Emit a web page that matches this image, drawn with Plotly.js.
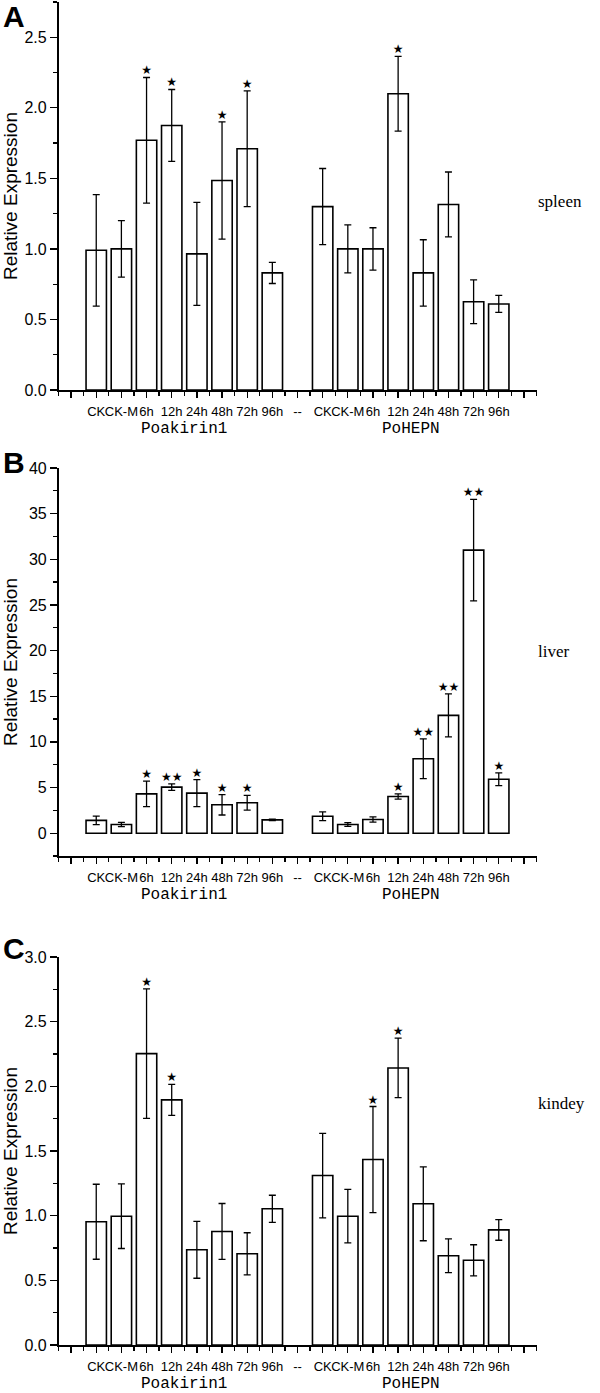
<!DOCTYPE html>
<html>
<head>
<meta charset="utf-8">
<script src="https://cdn.plot.ly/plotly-3.0.1.min.js"></script>
<style>html,body{margin:0;padding:0;background:#fff}#chart{width:600px;height:1393px}</style>
</head>
<body>
<div id="chart"></div>
<script>
// ---- data ----
const tickLabels = ['CK','CK-M','6h','12h','24h','48h','72h','96h','--','CK','CK-M','6h','12h','24h','48h','72h','96h'];
const groupNames = ['Poakirin1','PoHEPN'];
const groupCenters = [3.5, 12.5];
const barPositions = [0,1,2,3,4,5,6,7, 9,10,11,12,13,14,15,16];
const panelLetters = ['A','B','C'];
const tissues = ['spleen','liver','kindey'];

const spleenMean = [0.99,1.00,1.77,1.875,0.965,1.485,1.71,0.83, 1.30,1.00,1.00,2.10,0.83,1.315,0.625,0.61];
const spleenErr  = [0.395,0.20,0.445,0.255,0.365,0.415,0.41,0.075, 0.27,0.17,0.15,0.265,0.235,0.23,0.155,0.06];
const spleenSig  = ['','','*','*','','*','*','', '','','','*','','','',''];

const liverMean = [1.40,0.95,4.31,5.04,4.39,3.11,3.33,1.46, 1.86,0.95,1.50,4.02,8.15,12.9,31.0,5.9];
const liverErr  = [0.47,0.23,1.40,0.35,1.48,1.12,0.80,0.08, 0.48,0.20,0.29,0.29,2.18,2.36,5.56,0.70];
const liverSig  = ['','','*','**','*','*','*','', '','','','*','**','**','**','*'];

const kidneyMean = [0.953,0.996,2.253,1.895,0.736,0.878,0.705,1.053, 1.31,0.996,1.434,2.142,1.092,0.69,0.655,0.89];
const kidneyErr  = [0.29,0.25,0.50,0.12,0.22,0.216,0.163,0.105, 0.327,0.207,0.41,0.23,0.286,0.13,0.12,0.08];
const kidneySig  = ['','','*','*','','','','', '','','*','*','','','',''];

// ---- build ----
const H = 1393, W = 600;
const sans = 'Liberation Sans, Arial, sans-serif';
const serifMono = 'Liberation Mono, Courier New, monospace';
const serif = 'Liberation Serif, Times New Roman, serif';
const panels = [
  {mean: spleenMean, err: spleenErr, sig: spleenSig, range:[0,2.75], dtick:0.5, minor:0.25, fmt:'.1f', top:2, bottom:390, letterY:16, tissueY:201, standoff:6},
  {mean: liverMean,  err: liverErr,  sig: liverSig,  range:[-2.5,40], dtick:5, minor:2.5, fmt:'d', top:468, bottom:856, letterY:462, tissueY:651, standoff:10},
  {mean: kidneyMean, err: kidneyErr, sig: kidneySig, range:[0,3.0], dtick:0.5, minor:0.25, fmt:'.1f', top:957, bottom:1345, letterY:948, tissueY:1103, standoff:6}
];

const traces = [];
const layout = {
  width: W, height: H,
  margin: {l:0, r:0, t:0, b:0},
  paper_bgcolor: '#fff', plot_bgcolor: '#fff',
  showlegend: false,
  font: {family: sans, color: '#000', size: 14},
  annotations: []
};

const xDomain = [58.5/W, 536.5/W];
const starText = s => s.replace(/\*/g, '\u2605');

panels.forEach((p, k) => {
  const n = k + 1;
  const xa = 'x' + (n === 1 ? '' : n), ya = 'y' + (n === 1 ? '' : n);
  const xk = 'xaxis' + (n === 1 ? '' : n), yk = 'yaxis' + (n === 1 ? '' : n);
  traces.push({
    type: 'bar', x: barPositions, y: p.mean, xaxis: xa, yaxis: ya,
    width: 0.81,
    marker: {color: '#fff', line: {color: '#000', width: 1.6}},
    error_y: {type: 'data', array: p.err, visible: true, color: '#000', thickness: 1.3, width: 3.5},
    hoverinfo: 'skip'
  });
  traces.push({
    type: 'scatter', mode: 'text', x: barPositions,
    y: p.mean.map((v, i) => v + p.err[i]),
    text: p.sig.map(starText), textposition: 'top center',
    textfont: {family: 'DejaVu Sans, sans-serif', size: 12, color: '#000'},
    xaxis: xa, yaxis: ya, cliponaxis: false, hoverinfo: 'skip'
  });
  const tv = [-1], tt = [''];
  tickLabels.forEach((t, i) => { tv.push(i); tt.push(t); });
  tv.push(17); tt.push('');
  layout[xk] = {
    domain: xDomain, anchor: ya, range: [-1.5, 17.5],
    tickmode: 'array', tickvals: tv, ticktext: tt, tickangle: 0,
    ticks: 'outside', ticklen: 6, tickwidth: 1.3, tickcolor: '#000',
    showline: true, linewidth: 1.6, linecolor: '#000',
    showgrid: false, zeroline: false, fixedrange: true,
    tickfont: {family: sans, size: 13, color: '#000'},
    ticklabelstandoff: 3,
    minor: {tickmode: 'linear', tick0: -1.5, dtick: 0.5, ticks: 'outside', ticklen: 4, tickwidth: 1.3, tickcolor: '#000', showgrid: false}
  };
  layout[yk] = {
    domain: [1 - p.bottom/H, 1 - p.top/H], anchor: xa, range: p.range,
    tickmode: 'linear', tick0: 0, dtick: p.dtick, tickformat: p.fmt,
    ticks: 'outside', ticklen: 7, tickwidth: 1.3, tickcolor: '#000',
    showline: true, linewidth: 1.6, linecolor: '#000',
    showgrid: false, zeroline: false, fixedrange: true,
    tickfont: {family: sans, size: 16, color: '#000'},
    minor: {tickmode: 'linear', tick0: 0, dtick: p.minor, ticks: 'outside', ticklen: 4, tickwidth: 1.3, tickcolor: '#000', showgrid: false},
    title: {text: 'Relative Expression', font: {family: sans, size: 19, color: '#000'}, standoff: p.standoff}
  };
  // group labels
  groupNames.forEach((g, gi) => {
    layout.annotations.push({
      text: g, xref: xa, yref: ya + ' domain', x: groupCenters[gi], y: 0,
      yanchor: 'middle', xanchor: 'center', yshift: -39, showarrow: false,
      font: {family: serifMono, size: 16, color: '#000'}
    });
  });
  // tissue label
  layout.annotations.push({
    text: tissues[k], xref: 'paper', yref: 'paper', x: 536/W, y: 1 - p.tissueY/H,
    xanchor: 'left', yanchor: 'middle', showarrow: false,
    font: {family: serif, size: 17, color: '#000'}
  });
  // panel letter
  layout.annotations.push({
    text: '<b>' + panelLetters[k] + '</b>', xref: 'paper', yref: 'paper', x: 13.5/W, y: 1 - p.letterY/H,
    xanchor: 'center', yanchor: 'middle', showarrow: false,
    font: {family: sans, size: 30, color: '#000'}
  });
});

Plotly.newPlot('chart', traces, layout, {staticPlot: true, displayModeBar: false});
</script>
</body>
</html>
